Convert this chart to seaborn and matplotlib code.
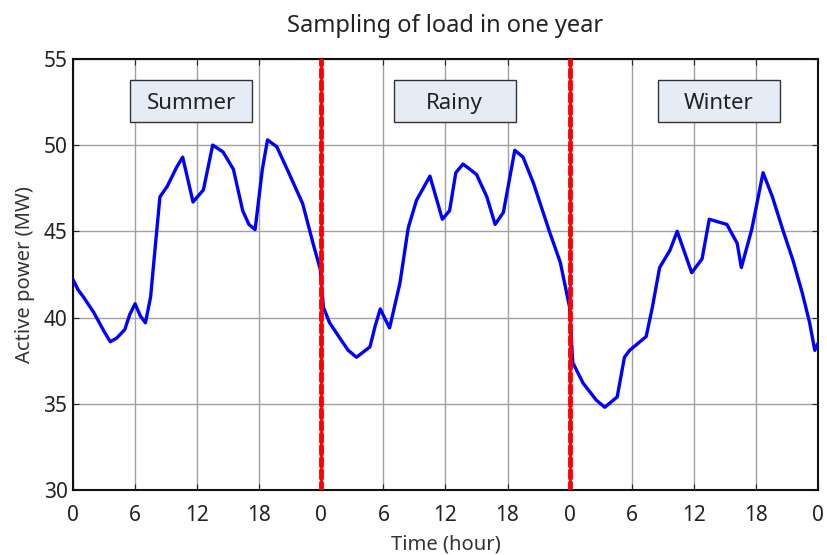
import matplotlib
matplotlib.use("Agg")
import matplotlib.pyplot as plt
import seaborn as sns
import pandas as pd
from matplotlib.patches import Rectangle

# Load samples over three representative days (hours run 0..72)
hours = [0.0, 0.5, 1.0, 2.0, 3.0, 3.6, 4.2, 5.0, 5.5, 6.0, 6.5, 7.0, 7.5, 7.9, 8.4, 9.1, 10.0, 10.6,
         11.6, 12.6, 13.5, 14.5, 15.5, 16.4, 17.0, 17.6, 18.3, 18.8, 19.7, 21.0, 22.2, 23.2,
         23.9, 24.2, 24.8, 25.8, 26.6, 27.4, 28.7, 29.2, 29.7, 30.1, 30.6, 31.6, 32.4, 33.2, 34.5, 35.7,
         36.4, 37.0, 37.7, 39.0, 40.0, 40.8, 41.6, 42.7, 43.5, 44.5, 46.1, 47.1, 48.0,
         48.3, 49.3, 50.6, 51.4, 52.6, 53.3, 53.8, 55.4, 56.0, 56.7, 57.7, 58.4, 59.8,
         60.8, 61.5, 63.2, 64.2, 64.6, 65.6, 66.7, 67.6, 68.6, 69.6, 70.5, 71.2, 71.7, 72.0]
power = [42.2, 41.6, 41.2, 40.3, 39.2, 38.6, 38.8, 39.3, 40.2, 40.8, 40.1, 39.7, 41.2, 43.8, 47.0, 47.6, 48.7, 49.3,
         46.7, 47.4, 50.0, 49.6, 48.6, 46.2, 45.4, 45.1, 48.6, 50.3, 49.9, 48.2, 46.6, 44.3,
         42.8, 40.6, 39.7, 38.8, 38.1, 37.7, 38.3, 39.5, 40.5, 40.0, 39.4, 42.0, 45.2, 46.8, 48.2, 45.7,
         46.2, 48.4, 48.9, 48.3, 47.0, 45.4, 46.1, 49.7, 49.3, 47.8, 44.9, 43.2, 40.6,
         37.4, 36.2, 35.2, 34.8, 35.4, 37.7, 38.1, 38.9, 40.6, 42.9, 43.9, 45.0, 42.6,
         43.4, 45.7, 45.4, 44.3, 42.9, 45.1, 48.4, 47.0, 45.1, 43.3, 41.4, 39.7, 38.1, 38.5]

tick_hours = list(range(0, 73, 6))
tick_labels = ["0", "6", "12", "18", "0", "6", "12", "18", "0", "6", "12", "18", "0"]
day_bounds = [24, 48]
seasons = ["Summer", "Rainy", "Winter"]
season_left = [5.5, 31.0, 56.5]

sns.set_style("white")
plt.rcParams["font.family"] = ["Noto Sans", "DejaVu Sans"]
plt.rcParams["font.weight"] = "light"

fig = plt.figure(figsize=(8.27, 5.55), dpi=100)
ax = fig.add_axes([0.0883, 0.117, 0.9007, 0.777])

df = pd.DataFrame({"hour": hours, "power": power})
sns.lineplot(data=df, x="hour", y="power", ax=ax, color="#0000ff", linewidth=2.4, zorder=3)

for b in day_bounds:
    ax.axvline(b, color="#ff0000", linewidth=3.5, linestyle=(0, (1.6, 0.9)),
               dash_capstyle="round", zorder=4)

ax.set_xlim(0, 72)
ax.set_ylim(30, 55)
ax.set_xticks(tick_hours)
ax.set_xticklabels(tick_labels)
ax.set_yticks([30, 35, 40, 45, 50, 55])
ax.grid(True, color="#a0a0a0", linewidth=1.0, zorder=0)
ax.tick_params(axis="both", direction="in", length=4, labelsize=15, colors="#222222",
               top=True, right=True, left=True, bottom=True)
ax.tick_params(axis="x", pad=11)
ax.tick_params(axis="y", pad=4)
for s in ax.spines.values():
    s.set_color("#111111")
    s.set_linewidth(1.5)

ax.set_xlabel("Time (hour)", fontsize=14.5, color="#333333", labelpad=6)
ax.set_ylabel("Active power (MW)", fontsize=14.5, color="#333333", labelpad=6)
ax.set_title("Sampling of load in one year", fontsize=17, color="#222222", pad=19)

for name, left in zip(seasons, season_left):
    ax.add_patch(Rectangle((left, 51.35), 11.8, 2.43, facecolor="#e6ecf6",
                           edgecolor="#333333", linewidth=1.0, zorder=5))
    ax.text(left + 5.9, 52.4, name, ha="center", va="center", fontsize=16,
            color="#222222", zorder=6)

fig.savefig("out.png", dpi=100)
